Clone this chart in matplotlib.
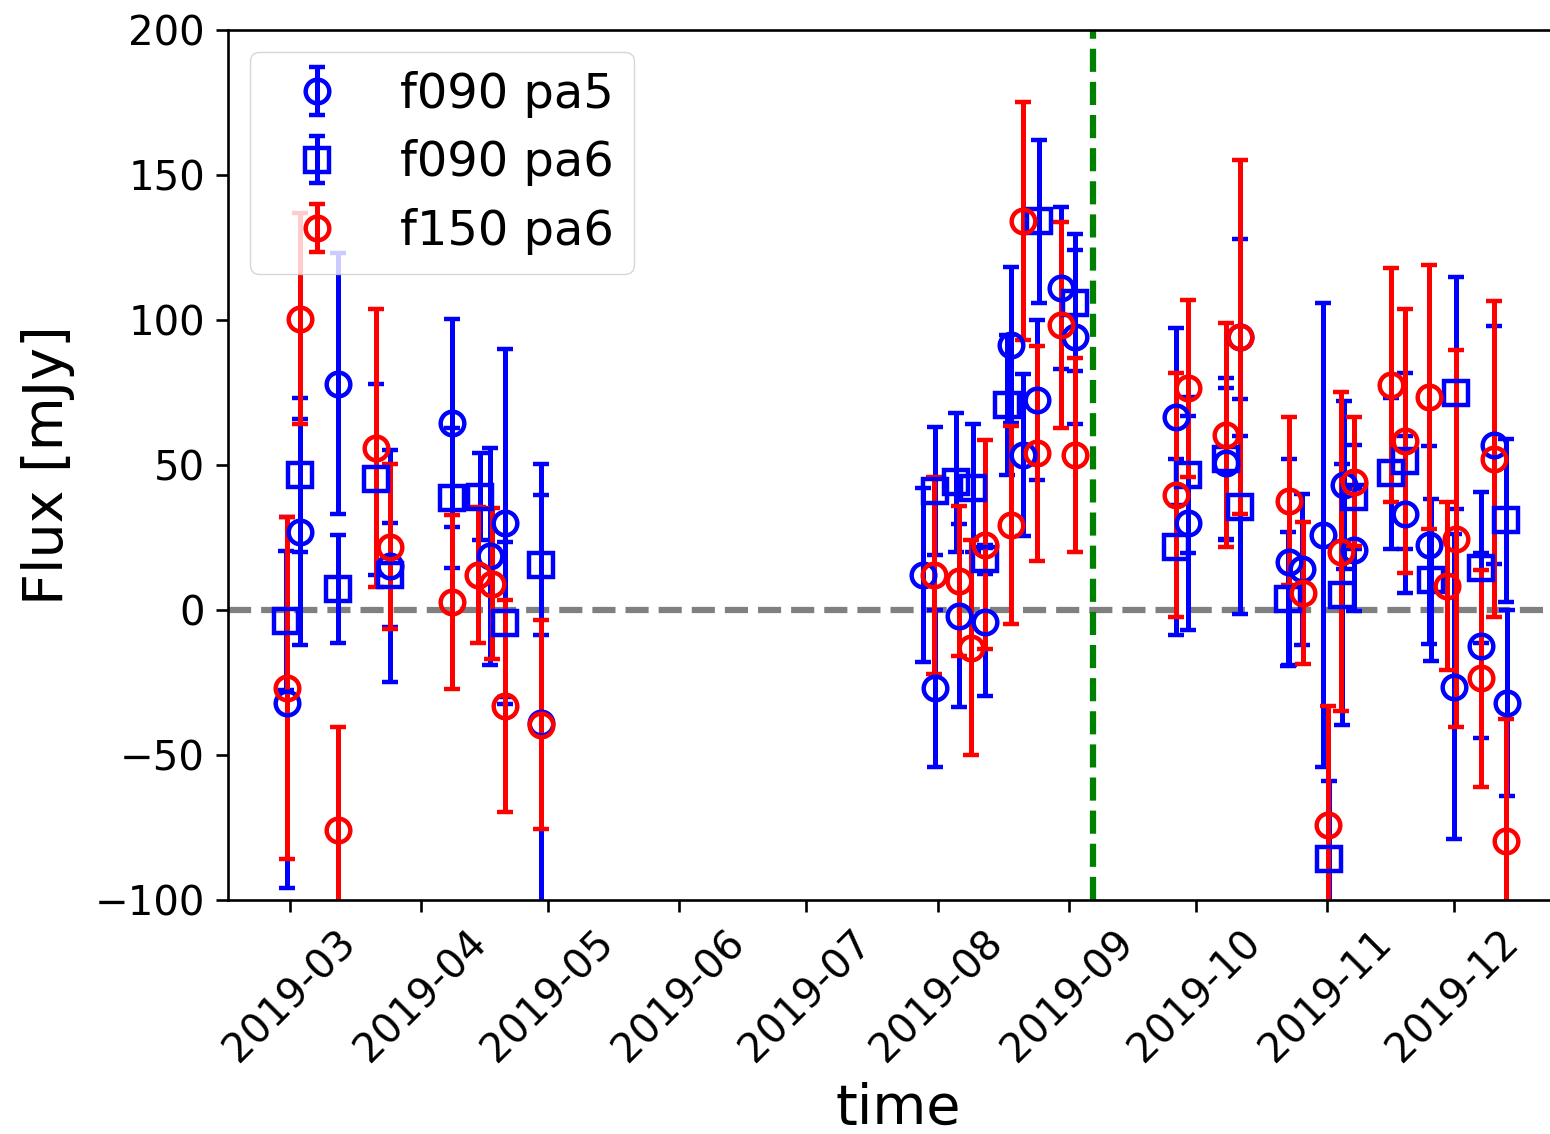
import matplotlib
matplotlib.use("Agg")
import matplotlib.pyplot as plt
import matplotlib.dates as mdates
import pandas as pd

# f090 pa5 (blue circles)
t_a = ["2019-02-28 07:00", "2019-03-03 10:00", "2019-03-12 07:00", "2019-03-24 14:00",
       "2019-04-08 07:00", "2019-04-17 07:00", "2019-04-20 19:00", "2019-04-29 07:00",
       "2019-07-28 12:00", "2019-07-31 12:00", "2019-08-06 00:00", "2019-08-12 07:00",
       "2019-08-18 07:00", "2019-08-21 02:00", "2019-08-24 14:00", "2019-08-30 02:00",
       "2019-09-02 14:00", "2019-09-26 07:00", "2019-09-29 07:00", "2019-10-08 02:00",
       "2019-10-11 14:00", "2019-10-23 00:00", "2019-10-26 02:00", "2019-10-31 02:00",
       "2019-11-05 00:00", "2019-11-07 10:00", "2019-11-19 12:00", "2019-11-25 02:00",
       "2019-12-01 00:00", "2019-12-07 10:00", "2019-12-10 12:00", "2019-12-13 12:00"]
f_a = [-32, 27, 78, 15, 64.5, 18.5, 30, -39,
       12, -27, -2, -4, 91.4, 53.4, 72.4, 111, 94,
       66.7, 30, 50.6, 94,
       16.6, 14, 26, 43, 20.7, 33, 22.4,
       -26.4, -12.3, 57, -32]
e_a = [64, 39, 45, 40, 36, 37.5, 60, 89.5,
       30, 27, 31.5, 25.5, 27, 28, 27.6, 28, 30,
       30.5, 37, 26, 34,
       35.5, 26, 80, 29, 21, 27, 34,
       52.5, 32, 41, 32]

# f090 pa6 (blue squares)
t_b = ["2019-02-28 00:00", "2019-03-03 10:00", "2019-03-12 07:00", "2019-03-21 07:00",
       "2019-03-24 14:00", "2019-04-08 07:00", "2019-04-14 22:00", "2019-04-20 19:00",
       "2019-04-29 07:00", "2019-07-31 12:00", "2019-08-05 07:00", "2019-08-09 07:00",
       "2019-08-12 07:00", "2019-08-17 12:00", "2019-08-25 02:00", "2019-09-02 14:00",
       "2019-09-26 07:00", "2019-09-29 07:00", "2019-10-08 02:00", "2019-10-11 14:00",
       "2019-10-22 19:00", "2019-11-01 12:00", "2019-11-04 12:00", "2019-11-07 10:00",
       "2019-11-16 02:00", "2019-11-19 12:00", "2019-11-25 14:00", "2019-12-01 12:00",
       "2019-12-07 10:00", "2019-12-13 07:00"]
f_b = [-3.7, 46.5, 7.2, 45, 12, 38.6, 39, -4.5, 15.5,
       41, 44, 42, 17.5, 70.7, 134, 106,
       21.8, 46.5, 52, 35.6,
       3.8, -86, 5.2, 39, 47.2, 51.4, 10.3,
       74.8, 14.6, 30.9]
e_b = [24, 26.5, 18.5, 33, 18, 24, 15, 28, 24,
       22, 24, 22, 5, 24, 28, 23.5,
       30.4, 27, 28, 37,
       23, 27, 45, 18, 26, 30.4, 28,
       40, 26, 28]

# f150 pa6 (red circles)
t_c = ["2019-02-28 07:00", "2019-03-03 10:00", "2019-03-12 07:00", "2019-03-21 07:00",
       "2019-03-24 14:00", "2019-04-08 07:00", "2019-04-14 10:00", "2019-04-17 19:00",
       "2019-04-20 19:00", "2019-04-29 07:00", "2019-07-31 02:00", "2019-08-06 00:00",
       "2019-08-08 19:00", "2019-08-12 07:00", "2019-08-18 07:00", "2019-08-21 02:00",
       "2019-08-24 14:00", "2019-08-30 02:00", "2019-09-02 10:00", "2019-09-26 07:00",
       "2019-09-29 07:00", "2019-10-08 02:00", "2019-10-11 14:00", "2019-10-23 00:00",
       "2019-10-26 07:00", "2019-11-01 05:00", "2019-11-04 07:00", "2019-11-07 10:00",
       "2019-11-16 02:00", "2019-11-19 12:00", "2019-11-25 02:00", "2019-11-29 10:00",
       "2019-12-01 12:00", "2019-12-07 10:00", "2019-12-10 12:00", "2019-12-13 07:00"]
f_c = [-27, 100.5, -76, 55.8, 21.8, 2.8, 12, 9, -33, -39.5,
       12, 10, -13, 22.5, 29.3, 134, 54, 98.3, 53.4,
       39.7, 76.5, 60.3, 94,
       37.6, 6, -74, 20, 44.3, 77.6, 58.4, 73.3, 8.3,
       24.5, -23.6, 52, -79.5]
e_c = [59, 36.5, 35.5, 48, 28.5, 30, 23.5, 26, 36.5, 36,
       34, 26, 37, 36, 34, 41, 37, 35.5, 33.5,
       42, 30.5, 38.6, 61,
       29, 24.5, 41, 55, 22.3, 40.5, 45.5, 45.5, 29,
       65, 37.5, 54.5, 42]

labels = ["f090 pa5", "f090 pa6", "f150 pa6"]
event_date = "2019-09-06 17:00"
x_limits = ("2019-02-14 07:00", "2019-12-28 00:00")

W, H = 1550, 1134
fig = plt.figure(figsize=(W / 100, H / 100), dpi=100)
ax = fig.add_axes([228 / W, 1 - 900 / H, (1568 - 228) / W, 870 / H])

kw = dict(ls="none", mfc="none", ms=17, mew=3.2, elinewidth=3.6,
          capsize=6, capthick=3.6)
series = [(t_a, f_a, e_a, "o", "blue"),
          (t_b, f_b, e_b, "s", "blue"),
          (t_c, f_c, e_c, "o", "red")]
for (t, f, e, m, c), lab in zip(series, labels):
    ax.errorbar(pd.to_datetime(t), f, yerr=e, fmt=m, color=c, label=lab, **kw)

ax.axhline(0, color="gray", ls="--", lw=4.5, zorder=0.5)
ax.axvline(pd.Timestamp(event_date), color="green", ls="--", lw=4.5)

ax.set_ylim(-100, 200)
ax.set_yticks([-100, -50, 0, 50, 100, 150, 200])
ax.set_xlim(pd.Timestamp(x_limits[0]), pd.Timestamp(x_limits[1]))
ax.xaxis.set_major_locator(mdates.MonthLocator())
ax.xaxis.set_major_formatter(mdates.DateFormatter("%Y-%m"))
for lab in ax.get_xticklabels():
    lab.set_rotation(45)

ax.tick_params(labelsize=29, length=8.5, width=1.9, pad=8)
for s in ax.spines.values():
    s.set_linewidth(1.9)
ax.set_xlabel("time", fontsize=40, labelpad=8)
ax.set_ylabel("Flux [mJy]", fontsize=40, labelpad=14)
ax.legend(loc="upper left", fontsize=34.5, borderaxespad=0.45,
          handletextpad=0.75, labelspacing=0.45, borderpad=0.4)

fig.savefig("out.png", dpi=100)
